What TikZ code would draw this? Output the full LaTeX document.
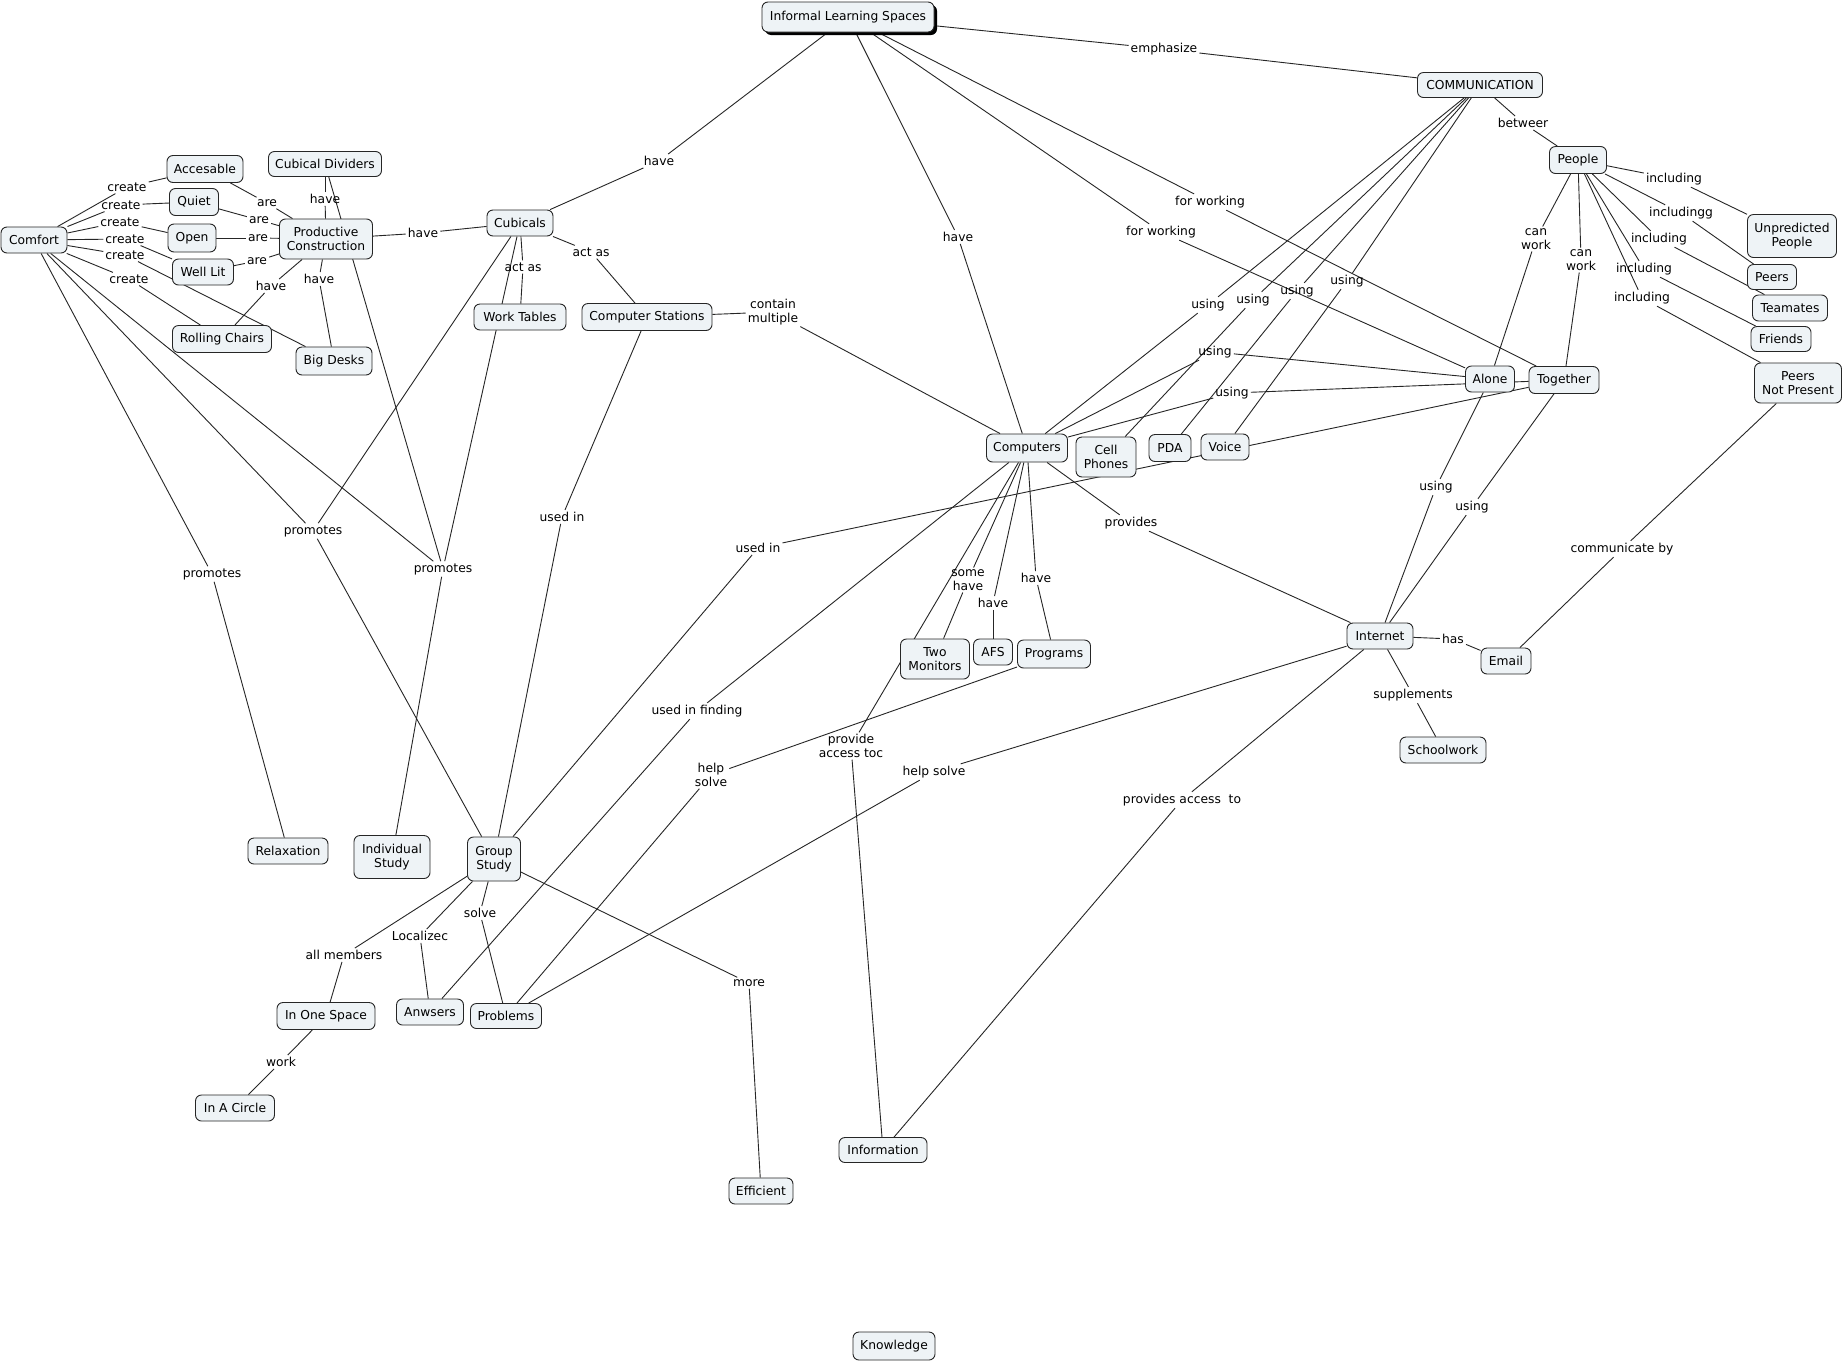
\documentclass[tikz,border=0pt]{standalone}
\usepackage{fontspec}
\setmainfont{DejaVu Sans}
\usetikzlibrary{backgrounds,shadows}
\definecolor{cfill}{RGB}{238,243,246}
\newcommand\cpt[6]{\node[concept, minimum width=#4pt, minimum height=#5pt] (#1) at (#2,#3) {#6};}
\newcommand\lbl[4]{\node[lab] (#1) at (#2,#3) {#4};}
\newcommand\lnk[3]{\draw[conn] (#1) -- (#2); \draw[conn] (#2) -- (#3);}
\newcommand\seg[2]{\draw[conn] (#1) -- (#2);}
\begin{document}
\begin{tikzpicture}[x=1pt,y=-1pt,
  font=\fontsize{12.3}{14.5}\selectfont,
  concept/.style={draw=black!85, fill=cfill, rounded corners=6pt, line width=0.9pt, inner sep=0pt, align=center},
  lab/.style={inner sep=2pt, align=center, font=\fontsize{12.3}{13.5}\selectfont},
  conn/.style={line width=0.9pt, draw=black!85}]
\useasboundingbox (0,0) rectangle (1843,1363);
% concepts
\node[concept, minimum width=172pt, minimum height=30pt, drop shadow={shadow xshift=3pt, shadow yshift=-3pt, fill=black, opacity=1}] (ils) at (848,17) {Informal Learning Spaces};
\cpt{comm}{1480}{85}{125}{25}{COMMUNICATION}
\cpt{people}{1578}{160}{57}{27}{People}
\cpt{unpred}{1792}{236}{89}{43}{Unpredicted\\People}
\cpt{peers}{1772}{277}{49}{25}{Peers}
\cpt{teamates}{1790}{308}{75}{26}{Teamates}
\cpt{friends}{1781}{339}{60}{25}{Friends}
\cpt{pnp}{1798}{383}{87}{40}{Peers\\Not Present}
\cpt{alone}{1490}{379}{49}{26}{Alone}
\cpt{together}{1564}{380}{70}{27}{Together}
\cpt{comfort}{34}{240}{66}{26}{Comfort}
\cpt{accesable}{205}{169}{76}{27}{Accesable}
\cpt{quiet}{194}{202}{49}{27}{Quiet}
\cpt{open}{192}{238}{48}{28}{Open}
\cpt{welllit}{203}{272}{61}{26}{Well Lit}
\cpt{cubdiv}{325}{164}{113}{25}{Cubical Dividers}
\cpt{pc}{326}{239}{93}{40}{Productive\\Construction}
\cpt{rolling}{222}{339}{99}{27}{Rolling Chairs}
\cpt{bigdesks}{334}{361}{76}{28}{Big Desks}
\cpt{cubicals}{520}{223}{66}{26}{Cubicals}
\cpt{worktables}{520}{317}{92}{26}{Work Tables}
\cpt{compst}{647}{317}{130}{27}{Computer Stations}
\cpt{computers}{1027}{448}{81}{28}{Computers}
\cpt{cellphones}{1106}{457}{60}{40}{Cell\\Phones}
\cpt{pda}{1170}{448}{42}{27}{PDA}
\cpt{voice}{1225}{447}{48}{26}{Voice}
\cpt{twomon}{935}{659}{69}{40}{Two\\Monitors}
\cpt{afs}{993}{652}{39}{26}{AFS}
\cpt{programs}{1054}{654}{73}{28}{Programs}
\cpt{internet}{1380}{636}{66}{26}{Internet}
\cpt{email}{1506}{661}{50}{26}{Email}
\cpt{schoolwork}{1443}{750}{86}{26}{Schoolwork}
\cpt{relax}{288}{851}{80}{26}{Relaxation}
\cpt{indiv}{392}{857}{76}{43}{Individual\\Study}
\cpt{group}{494}{859}{53}{44}{Group\\Study}
\cpt{onespace}{326}{1016}{98}{27}{In One Space}
\cpt{anwsers}{430}{1012}{67}{26}{Anwsers}
\cpt{problems}{506}{1016}{71}{25}{Problems}
\cpt{circle}{235}{1108}{79}{26}{In A Circle}
\cpt{efficient}{761}{1191}{64}{26}{Efficient}
\cpt{information}{883}{1150}{88}{25}{Information}
\cpt{knowledge}{894}{1346}{82}{28}{Knowledge}
% linking phrases
\lbl{lemph}{1164}{49}{emphasize}
\lbl{lhave1}{659}{161}{have}
\lbl{lhave2}{958}{237}{have}
\lbl{lfw1}{1210}{202}{for working}
\lbl{lfw2}{1161}{232}{for working}
\lbl{lbetw}{1523}{123}{betweer}
\lbl{linca}{1674}{179}{including}
\lbl{lincb}{1681}{213}{includingg}
\lbl{lincc}{1659}{239}{including}
\lbl{lincd}{1644}{269}{including}
\lbl{lince}{1642}{298}{including}
\lbl{lcwa}{1536}{239}{can\\work}
\lbl{lcwb}{1581}{260}{can\\work}
\lbl{lusa}{1208}{305}{using}
\lbl{lusb}{1253}{300}{using}
\lbl{lusc}{1297}{291}{using}
\lbl{lusd}{1347}{281}{using}
\lbl{luse}{1215}{352}{using}
\lbl{lusf}{1232}{393}{using}
\lbl{lusg}{1436}{487}{using}
\lbl{lush}{1472}{507}{using}
\lbl{lcomm}{1622}{549}{communicate by}
\lbl{lhas}{1453}{639}{has}
\lbl{lsupp}{1413}{695}{supplements}
\lbl{lpat}{1182}{800}{provides access\ \ to}
\lbl{lhsb}{934}{772}{help solve}
\lbl{lhsa}{711}{775}{help\\solve}
\lbl{lprov}{1131}{523}{provides}
\lbl{lsome}{968}{580}{some\\have}
\lbl{lhafs}{993}{603}{have}
\lbl{lhprog}{1036}{578}{have}
\lbl{lpat2}{851}{746}{provide\\access toc}
\lbl{luif}{697}{711}{used in finding}
\lbl{lusedb}{758}{548}{used in}
\lbl{lcm}{773}{312}{contain\\multiple}
\lbl{luseda}{562}{517}{used in}
\lbl{lacta}{523}{267}{act as}
\lbl{lactb}{591}{252}{act as}
\lbl{lhavec}{423}{233}{have}
\lbl{lproma}{313}{531}{promotes}
\lbl{lpromb}{443}{569}{promotes}
\lbl{lpromc}{212}{574}{promotes}
\lbl{lallm}{344}{955}{all members}
\lbl{lloc}{420}{936}{Localizec}
\lbl{lsolve}{480}{913}{solve}
\lbl{lmore}{749}{983}{more}
\lbl{lwork}{281}{1062}{work}
\lbl{lcra}{127}{187}{create}
\lbl{lcrb}{121}{205}{create}
\lbl{lcrc}{120}{222}{create}
\lbl{lcrd}{125}{239}{create}
\lbl{lcre}{125}{255}{create}
\lbl{lcrf}{129}{279}{create}
\lbl{larea}{267}{203}{are}
\lbl{lareb}{259}{220}{are}
\lbl{larec}{258}{238}{are}
\lbl{lared}{257}{261}{are}
\lbl{lhcd}{325}{199}{have}
\lbl{lhrc}{271}{286}{have}
\lbl{lhbd}{319}{279}{have}
% connectors
\begin{pgfonlayer}{background}
\fill[white] (0,0) rectangle (1843,1363);
\lnk{ils}{lemph}{comm}
\lnk{ils}{lhave1}{cubicals}
\lnk{ils}{lhave2}{computers}
\lnk{ils}{lfw1}{together}
\lnk{ils}{lfw2}{alone}
\lnk{comm}{lbetw}{people}
\lnk{people}{linca}{unpred}
\lnk{people}{lincb}{peers}
\lnk{people}{lincc}{teamates}
\lnk{people}{lincd}{friends}
\lnk{people}{lince}{pnp}
\lnk{people}{lcwa}{alone}
\lnk{people}{lcwb}{together}
\lnk{comm}{lusa}{computers}
\lnk{comm}{lusb}{cellphones}
\lnk{comm}{lusc}{pda}
\lnk{comm}{lusd}{voice}
\lnk{alone}{luse}{computers}
\lnk{together}{lusf}{computers}
\lnk{alone}{lusg}{internet}
\lnk{together}{lush}{internet}
\lnk{pnp}{lcomm}{email}
\lnk{internet}{lhas}{email}
\lnk{internet}{lsupp}{schoolwork}
\lnk{internet}{lpat}{information}
\lnk{internet}{lhsb}{problems}
\lnk{programs}{lhsa}{problems}
\lnk{computers}{lprov}{internet}
\lnk{computers}{lsome}{twomon}
\lnk{computers}{lhafs}{afs}
\lnk{computers}{lhprog}{programs}
\lnk{computers}{lpat2}{information}
\lnk{computers}{luif}{anwsers}
\lnk{together}{lusedb}{group}
\lnk{compst}{lcm}{computers}
\lnk{compst}{luseda}{group}
\lnk{cubicals}{lacta}{worktables}
\lnk{cubicals}{lactb}{compst}
\lnk{pc}{lhavec}{cubicals}
\lnk{cubicals}{lproma}{group}
\seg{comfort}{lproma}
\lnk{cubicals}{lpromb}{indiv}
\seg{comfort}{lpromb}
\seg{cubdiv}{lpromb}
\lnk{comfort}{lpromc}{relax}
\lnk{group}{lallm}{onespace}
\lnk{group}{lloc}{anwsers}
\lnk{group}{lsolve}{problems}
\lnk{group}{lmore}{efficient}
\lnk{onespace}{lwork}{circle}
\lnk{comfort}{lcra}{accesable}
\lnk{comfort}{lcrb}{quiet}
\lnk{comfort}{lcrc}{open}
\lnk{comfort}{lcrd}{welllit}
\lnk{comfort}{lcre}{bigdesks}
\lnk{comfort}{lcrf}{rolling}
\lnk{accesable}{larea}{pc}
\lnk{quiet}{lareb}{pc}
\lnk{open}{larec}{pc}
\lnk{welllit}{lared}{pc}
\lnk{pc}{lhcd}{cubdiv}
\lnk{pc}{lhrc}{rolling}
\lnk{pc}{lhbd}{bigdesks}
\end{pgfonlayer}
\end{tikzpicture}
\end{document}
